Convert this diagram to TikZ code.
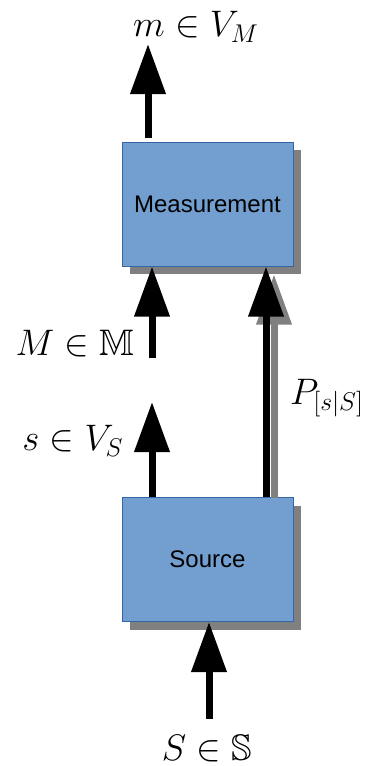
\documentclass[tikz,border=0pt]{standalone}
\usepackage{amssymb}
\usepackage{graphicx}
\usepackage{fontspec}
\newfontfamily\lsans{Liberation Sans}
\usetikzlibrary{arrows.meta,shadows}
\definecolor{boxfill}{HTML}{729FCF}
\definecolor{boxline}{HTML}{3465A4}
\definecolor{shadowgray}{HTML}{808080}
\newcommand{\biglabel}[1]{\scalebox{1.78}{\huge$#1$}}
\tikzset{
  block/.style={draw=boxline, line width=1pt, fill=boxfill, minimum width=171pt, minimum height=124pt,
    inner sep=0pt, font=\lsans\fontsize{24}{28}\selectfont,
    drop shadow={shadow xshift=8pt, shadow yshift=-8pt, opacity=1, fill=shadowgray}},
  bigarrow/.style={line width=7pt, -{Triangle[width=34pt,length=50pt]}},
  shadowarrow/.style={bigarrow, draw=shadowgray},
  lbl/.style={inner sep=0pt}
}
\begin{document}
\begin{tikzpicture}[x=1pt,y=-1pt]
\useasboundingbox (0,0) rectangle (369,766);
\node[block] (meas) at (207.5,204) {Measurement};
\node[block] (src) at (207.5,559.5) {Source};
% top output
\coordinate (mtail) at (148,138);
\coordinate (mtip) at (148,44);
\draw[bigarrow] (mtail) -- (mtip);
\node[lbl] (mlab) at (196,27) {\biglabel{m \in V_M}};
% M in MM
\coordinate (Mtail) at (152,358);
\draw[bigarrow] (Mtail) -- (Mtail |- meas.south);
\node[lbl] (Mlab) at (75,343) {\biglabel{M \in \mathbb{M}}};
% s in V_S
\coordinate (stip) at (152,402);
\draw[bigarrow] (stip |- src.north) -- (stip);
\node[lbl] (slab) at (73,441) {\biglabel{s \in V_S}};
% P arrow with shadow
\coordinate (pshx) at (274,0);
\coordinate (px) at (266,0);
\draw[shadowarrow] ([yshift=-0.5pt]pshx |- src.north) -- ([yshift=-8pt]pshx |- meas.south);
\draw[bigarrow] (px |- src.north) -- (px |- meas.south);
\node[lbl] (plab) at (327,398) {\biglabel{P_{[s|S]}}};
% S in SS
\coordinate (Stail) at (209,719);
\draw[bigarrow] (Stail) -- (Stail |- src.south);
\node[lbl] (Slab) at (207,748) {\biglabel{S \in \mathbb{S}}};
\end{tikzpicture}
\end{document}
